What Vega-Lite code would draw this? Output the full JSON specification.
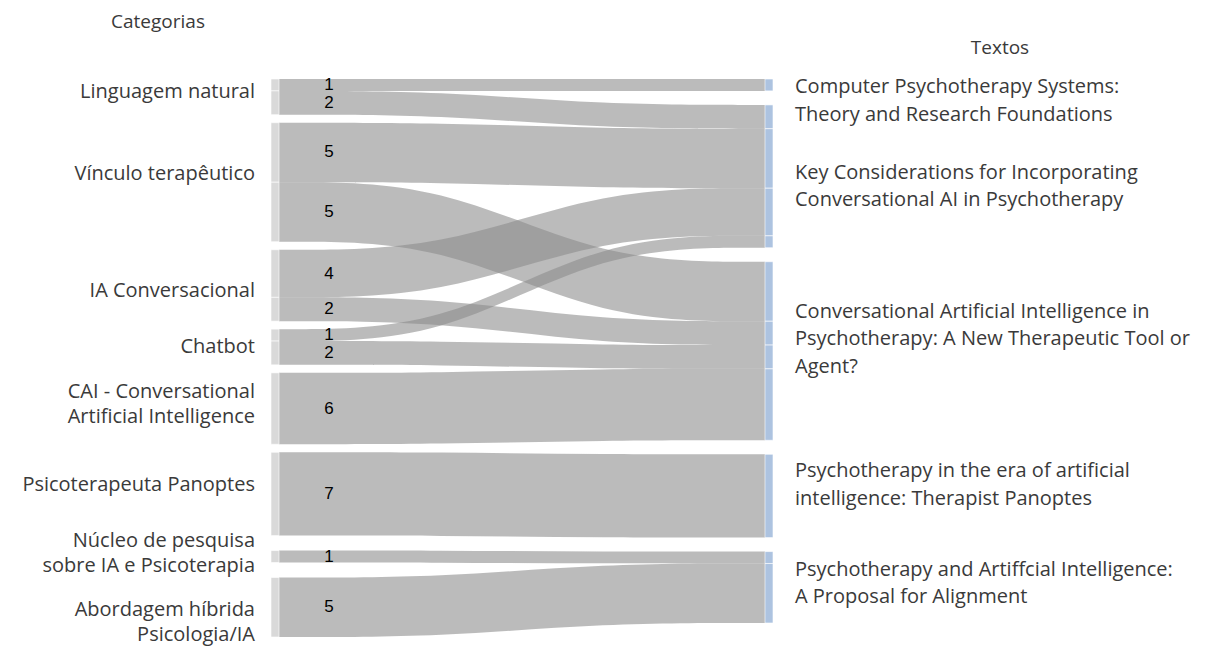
{
  "$schema": "https://vega.github.io/schema/vega-lite/v6.json",
  "width": 486,
  "height": 488,
  "autosize": {"type": "none"},
  "padding": {"left": 279, "top": 79, "right": 450, "bottom": 79},
  "background": "white",
  "config": {"view": {"stroke": null}, "text": {"lineBreak": "\n"}},
  "data": {
    "values": [
      {"source": "Linguagem natural", "target": "Computer Psychotherapy  Systems:\nTheory and Research Foundations", "value": 1},
      {"source": "Linguagem natural", "target": "Key Considerations for Incorporating\nConversational AI in Psychotherapy", "value": 2},
      {"source": "Vínculo terapêutico", "target": "Key Considerations for Incorporating\nConversational AI in Psychotherapy", "value": 5},
      {"source": "Vínculo terapêutico", "target": "Conversational Artificial Intelligence in\nPsychotherapy: A New Therapeutic Tool or\nAgent?", "value": 5},
      {"source": "IA Conversacional", "target": "Key Considerations for Incorporating\nConversational AI in Psychotherapy", "value": 4},
      {"source": "IA Conversacional", "target": "Conversational Artificial Intelligence in\nPsychotherapy: A New Therapeutic Tool or\nAgent?", "value": 2},
      {"source": "Chatbot", "target": "Key Considerations for Incorporating\nConversational AI in Psychotherapy", "value": 1},
      {"source": "Chatbot", "target": "Conversational Artificial Intelligence in\nPsychotherapy: A New Therapeutic Tool or\nAgent?", "value": 2},
      {"source": "CAI - Conversational\nArtificial Intelligence", "target": "Conversational Artificial Intelligence in\nPsychotherapy: A New Therapeutic Tool or\nAgent?", "value": 6},
      {"source": "Psicoterapeuta Panoptes", "target": "Psychotherapy in the era of artificial\nintelligence:  Therapist Panoptes", "value": 7},
      {"source": "Núcleo de pesquisa\nsobre IA e Psicoterapia", "target": "Psychotherapy and Artiffcial  Intelligence:\nA Proposal for  Alignment", "value": 1},
      {"source": "Abordagem híbrida\nPsicologia/IA", "target": "Psychotherapy and Artiffcial  Intelligence:\nA Proposal for  Alignment", "value": 5}
    ]
  },
  "transform": [
    {"window": [{"op": "row_number", "as": "idx"}]},
    {"window": [{"op": "first_value", "field": "source", "as": "sourceB"}], "groupby": ["source"]},
    {"window": [{"op": "first_value", "field": "target", "as": "targetB"}], "groupby": ["target"]},
    {"fold": ["source", "sourceB", "target", "targetB"], "as": ["pt", "node"]},
    {"joinaggregate": [{"op": "min", "field": "idx", "as": "nf"}], "groupby": ["pt", "node"]},
    {"stack": "value", "groupby": ["pt"], "sort": [{"field": "nf", "order": "ascending"}, {"field": "idx", "order": "ascending"}], "as": ["y0", "y1"]},
    {"window": [{"op": "dense_rank", "as": "rank"}], "groupby": ["pt"], "sort": [{"field": "nf", "order": "ascending"}]}
  ],
  "encoding": {
    "x": {"field": "pt", "type": "ordinal", "scale": {"type": "point", "domain": ["source", "sourceB", "target", "targetB"], "padding": 0}, "axis": null}
  },
  "layer": [
    {
      "mark": {"type": "area", "interpolate": "basis", "color": "#8b8b8b", "opacity": 0.59,
        "yOffset": {"expr": "(datum.pt == 'source' || datum.pt == 'sourceB') ? (datum.rank - 1) * 8 + max(datum.rank - 6, 0) * 7 : (datum.rank - 1) * 14"},
        "y2Offset": {"expr": "(datum.pt == 'source' || datum.pt == 'sourceB') ? (datum.rank - 1) * 8 + max(datum.rank - 6, 0) * 7 : (datum.rank - 1) * 14"}},
      "encoding": {
        "y": {"field": "y0", "type": "quantitative", "scale": {"domain": [0, 41], "reverse": true, "nice": false, "zero": false}, "axis": null},
        "y2": {"field": "y1"},
        "detail": {"field": "idx", "type": "nominal"}
      }
    },
    {
      "transform": [{"filter": "datum.pt == 'source'"}],
      "mark": {"type": "bar", "width": 8, "xOffset": -4, "color": "#d9d9d9", "stroke": "white", "strokeWidth": 0.6,
        "yOffset": {"expr": "(datum.rank - 1) * 8 + max(datum.rank - 6, 0) * 7"},
        "y2Offset": {"expr": "(datum.rank - 1) * 8 + max(datum.rank - 6, 0) * 7"}},
      "encoding": {
        "y": {"field": "y0", "type": "quantitative"},
        "y2": {"field": "y1"}
      }
    },
    {
      "transform": [{"filter": "datum.pt == 'targetB'"}],
      "mark": {"type": "bar", "width": 8, "xOffset": 4, "color": "#adc3e0", "stroke": "white", "strokeWidth": 0.6,
        "yOffset": {"expr": "(datum.rank - 1) * 14"},
        "y2Offset": {"expr": "(datum.rank - 1) * 14"}},
      "encoding": {
        "y": {"field": "y0", "type": "quantitative"},
        "y2": {"field": "y1"}
      }
    },
    {
      "transform": [
        {"filter": "datum.pt == 'source'"},
        {"aggregate": [{"op": "min", "field": "y0", "as": "lo"}, {"op": "max", "field": "y1", "as": "hi"}, {"op": "min", "field": "rank", "as": "rk"}], "groupby": ["pt", "node"]},
        {"fold": ["lo", "hi"], "as": ["k", "v"]},
        {"aggregate": [{"op": "mean", "field": "v", "as": "mid"}, {"op": "min", "field": "rk", "as": "rank"}], "groupby": ["pt", "node"]}
      ],
      "mark": {"type": "text", "align": "right", "baseline": "middle", "dx": -24, "font": "Open Sans", "fontSize": 20, "color": "#3a3a3a", "lineHeight": 25,
        "yOffset": {"expr": "(datum.rank - 1) * 8 + max(datum.rank - 6, 0) * 7"},
        "dy": {"expr": "-(length(split(datum.node, '\\n')) - 1) * 12.5 + [-5, -8, 6, 0, -4, -9, -3, 15][datum.rank - 1]"}},
      "encoding": {
        "y": {"field": "mid", "type": "quantitative"},
        "text": {"field": "node", "type": "nominal"}
      }
    },
    {
      "transform": [
        {"filter": "datum.pt == 'targetB'"},
        {"aggregate": [{"op": "min", "field": "y0", "as": "lo"}, {"op": "max", "field": "y1", "as": "hi"}, {"op": "min", "field": "rank", "as": "rk"}], "groupby": ["pt", "node"]},
        {"fold": ["lo", "hi"], "as": ["k", "v"]},
        {"aggregate": [{"op": "mean", "field": "v", "as": "mid"}, {"op": "min", "field": "rk", "as": "rank"}], "groupby": ["pt", "node"]}
      ],
      "mark": {"type": "text", "align": "left", "baseline": "middle", "dx": 30, "font": "Open Sans", "fontSize": 20, "color": "#3a3a3a", "lineHeight": 27.5,
        "yOffset": {"expr": "(datum.rank - 1) * 14"},
        "dy": {"expr": "-(length(split(datum.node, '\\n')) - 1) * 13.75 + [16, 10, -12, -11, -4][datum.rank - 1]"}},
      "encoding": {
        "y": {"field": "mid", "type": "quantitative"},
        "text": {"field": "node", "type": "nominal"}
      }
    },
    {
      "transform": [
        {"filter": "datum.pt == 'source'"},
        {"fold": ["y0", "y1"], "as": ["k", "v"]},
        {"aggregate": [{"op": "mean", "field": "v", "as": "mid"}, {"op": "min", "field": "rank", "as": "rank"}], "groupby": ["idx", "pt", "value"]}
      ],
      "mark": {"type": "text", "align": "center", "baseline": "middle", "dx": 50, "font": "Liberation Sans", "fontSize": 17, "color": "#000000",
        "yOffset": {"expr": "(datum.rank - 1) * 8 + max(datum.rank - 6, 0) * 7"}},
      "encoding": {
        "y": {"field": "mid", "type": "quantitative"},
        "text": {"field": "value", "type": "quantitative"}
      }
    },
    {
      "transform": [{"filter": "datum.idx == 1 && datum.pt == 'source'"}],
      "mark": {"type": "text", "text": "Categorias", "align": "center", "baseline": "middle", "dx": -121, "dy": -57, "font": "Open Sans", "fontSize": 19, "color": "#3a3a3a"},
      "encoding": {
        "x": {"datum": "source"},
        "y": {"datum": 0}
      }
    },
    {
      "transform": [{"filter": "datum.idx == 1 && datum.pt == 'source'"}],
      "mark": {"type": "text", "text": "Textos", "align": "center", "baseline": "middle", "dx": 235, "dy": -31, "font": "Open Sans", "fontSize": 19, "color": "#3a3a3a"},
      "encoding": {
        "x": {"datum": "targetB"},
        "y": {"datum": 0}
      }
    }
  ]
}
